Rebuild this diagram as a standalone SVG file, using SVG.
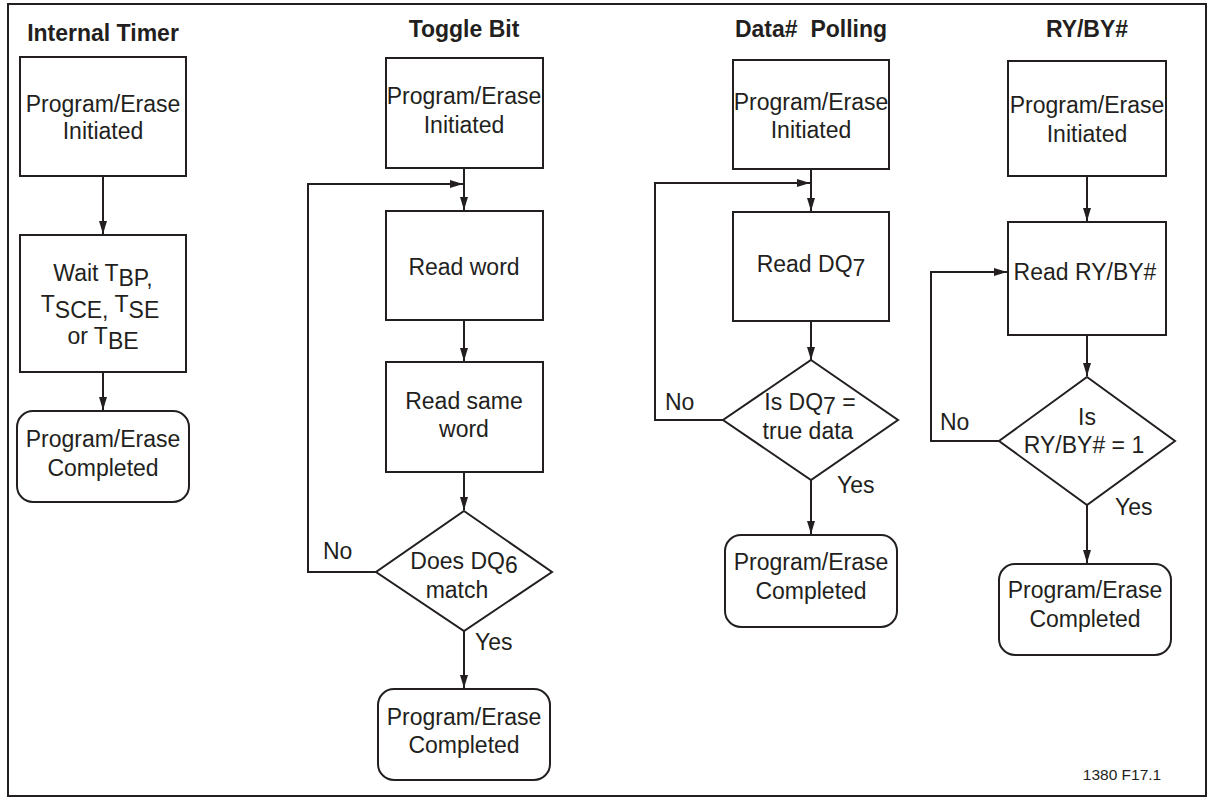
<svg xmlns="http://www.w3.org/2000/svg" width="1213" height="804" viewBox="0 0 1213 804">
<style>
  .bx{fill:#fff;stroke:#231f20;stroke-width:2}
  .ln{fill:none;stroke:#231f20;stroke-width:2}
  .t{font-family:"Liberation Sans",Arial,sans-serif;font-size:23px;fill:#231f20;text-anchor:middle}
  .l{font-family:"Liberation Sans",Arial,sans-serif;font-size:23px;fill:#231f20}
  .h{font-family:"Liberation Sans",Arial,sans-serif;font-size:23px;font-weight:bold;fill:#231f20;text-anchor:middle;white-space:pre}
  .c{font-family:"Liberation Sans",Arial,sans-serif;font-size:15.5px;fill:#231f20;text-anchor:middle}
</style>
<defs>
  <marker id="ah" markerUnits="userSpaceOnUse" markerWidth="14" markerHeight="9" refX="13" refY="4" orient="auto">
    <path d="M0,0 L13,4 L0,8 z" fill="#231f20"/>
  </marker>
</defs>
<rect x="0" y="0" width="1213" height="804" fill="#fff"/>
<rect x="8" y="4" width="1198" height="792" class="ln"/>

<text class="h" x="103" y="41">Internal Timer</text>
<text class="h" x="464" y="37">Toggle Bit</text>
<text class="h" x="811" y="37">Data#  Polling</text>
<text class="h" x="1087" y="37">RY/BY#</text>

<g id="connectors">
  <!-- Internal timer -->
  <line class="ln" x1="103" y1="176" x2="103" y2="234" marker-end="url(#ah)"/>
  <line class="ln" x1="103" y1="372" x2="103" y2="410" marker-end="url(#ah)"/>
  <!-- Toggle bit -->
  <line class="ln" x1="464" y1="168" x2="464" y2="210" marker-end="url(#ah)"/>
  <line class="ln" x1="464" y1="320" x2="464" y2="361" marker-end="url(#ah)"/>
  <line class="ln" x1="464" y1="472" x2="464" y2="510" marker-end="url(#ah)"/>
  <line class="ln" x1="464" y1="630" x2="464" y2="688" marker-end="url(#ah)"/>
  <polyline class="ln" points="376,572 308,572 308,184 463,184" marker-end="url(#ah)"/>
  <!-- Data polling -->
  <line class="ln" x1="811" y1="169" x2="811" y2="211" marker-end="url(#ah)"/>
  <line class="ln" x1="811" y1="321" x2="811" y2="360" marker-end="url(#ah)"/>
  <line class="ln" x1="811" y1="480" x2="811" y2="534" marker-end="url(#ah)"/>
  <polyline class="ln" points="723,420 655,420 655,183 810,183" marker-end="url(#ah)"/>
  <!-- RY/BY# -->
  <line class="ln" x1="1087" y1="176" x2="1087" y2="221" marker-end="url(#ah)"/>
  <line class="ln" x1="1087" y1="335" x2="1087" y2="376" marker-end="url(#ah)"/>
  <line class="ln" x1="1087" y1="505" x2="1087" y2="563" marker-end="url(#ah)"/>
  <polyline class="ln" points="999,441 931,441 931,272 1007,272" marker-end="url(#ah)"/>
</g>

<!-- Column 1 -->
<g id="it-init">
  <rect class="bx" x="20" y="57" width="166" height="119"/>
  <text class="t" x="103" y="112">Program/Erase</text>
  <text class="t" x="103" y="139">Initiated</text>
</g>
<g id="it-wait">
  <rect class="bx" x="20" y="235" width="166" height="137"/>
  <text class="t" x="103" y="281">Wait T<tspan dy="5">BP,</tspan></text>
  <text class="t" x="100" y="312">T<tspan dy="6">SCE, </tspan><tspan dy="-6">T</tspan><tspan dy="6">SE</tspan></text>
  <text class="t" x="103" y="344">or T<tspan dy="5">BE</tspan></text>
</g>
<g id="it-done">
  <rect class="bx" x="17" y="411" width="172" height="91" rx="16" ry="16"/>
  <text class="t" x="103" y="447">Program/Erase</text>
  <text class="t" x="103" y="476">Completed</text>
</g>

<!-- Column 2 -->
<g id="tb-init">
  <rect class="bx" x="386" y="58" width="157" height="110"/>
  <text class="t" x="464" y="104">Program/Erase</text>
  <text class="t" x="464" y="133">Initiated</text>
</g>
<g id="tb-read">
  <rect class="bx" x="386" y="211" width="157" height="109"/>
  <text class="t" x="464" y="275">Read word</text>
</g>
<g id="tb-read2">
  <rect class="bx" x="386" y="362" width="157" height="110"/>
  <text class="t" x="464" y="409">Read same</text>
  <text class="t" x="464" y="437">word</text>
</g>
<g id="tb-dec">
  <polygon class="bx" points="464,511 552,572 464,631 376,572"/>
  <text class="t" x="464" y="569">Does DQ<tspan dy="4">6</tspan></text>
  <text class="t" x="457" y="598">match</text>
  <text class="l" x="323" y="559">No</text>
  <text class="l" x="475" y="650">Yes</text>
</g>
<g id="tb-done">
  <rect class="bx" x="378" y="689" width="172" height="91" rx="16" ry="16"/>
  <text class="t" x="464" y="725">Program/Erase</text>
  <text class="t" x="464" y="753">Completed</text>
</g>

<!-- Column 3 -->
<g id="dp-init">
  <rect class="bx" x="733" y="60" width="156" height="109"/>
  <text class="t" x="811" y="110">Program/Erase</text>
  <text class="t" x="811" y="138">Initiated</text>
</g>
<g id="dp-read">
  <rect class="bx" x="733" y="212" width="156" height="109"/>
  <text class="t" x="811" y="272">Read DQ<tspan dy="4">7</tspan></text>
</g>
<g id="dp-dec">
  <polygon class="bx" points="811,360 898,420 811,480 723,420"/>
  <text class="t" x="810" y="410">Is DQ<tspan dy="4">7</tspan><tspan dy="-4"> =</tspan></text>
  <text class="t" x="808" y="439">true data</text>
  <text class="l" x="665" y="410">No</text>
  <text class="l" x="837" y="493">Yes</text>
</g>
<g id="dp-done">
  <rect class="bx" x="725" y="535" width="172" height="92" rx="16" ry="16"/>
  <text class="t" x="811" y="570">Program/Erase</text>
  <text class="t" x="811" y="599">Completed</text>
</g>

<!-- Column 4 -->
<g id="ry-init">
  <rect class="bx" x="1008" y="61" width="158" height="115"/>
  <text class="t" x="1087" y="113">Program/Erase</text>
  <text class="t" x="1087" y="142">Initiated</text>
</g>
<g id="ry-read">
  <rect class="bx" x="1008" y="222" width="158" height="113"/>
  <text class="t" x="1085" y="280">Read RY/BY#</text>
</g>
<g id="ry-dec">
  <polygon class="bx" points="1087,377 1175,441 1087,505 999,441"/>
  <text class="t" x="1087" y="425">Is</text>
  <text class="t" x="1084" y="453">RY/BY# = 1</text>
  <text class="l" x="940" y="430">No</text>
  <text class="l" x="1115" y="515">Yes</text>
</g>
<g id="ry-done">
  <rect class="bx" x="999" y="564" width="172" height="91" rx="16" ry="16"/>
  <text class="t" x="1085" y="598">Program/Erase</text>
  <text class="t" x="1085" y="627">Completed</text>
</g>

<text class="c" x="1122" y="780">1380 F17.1</text>
</svg>
